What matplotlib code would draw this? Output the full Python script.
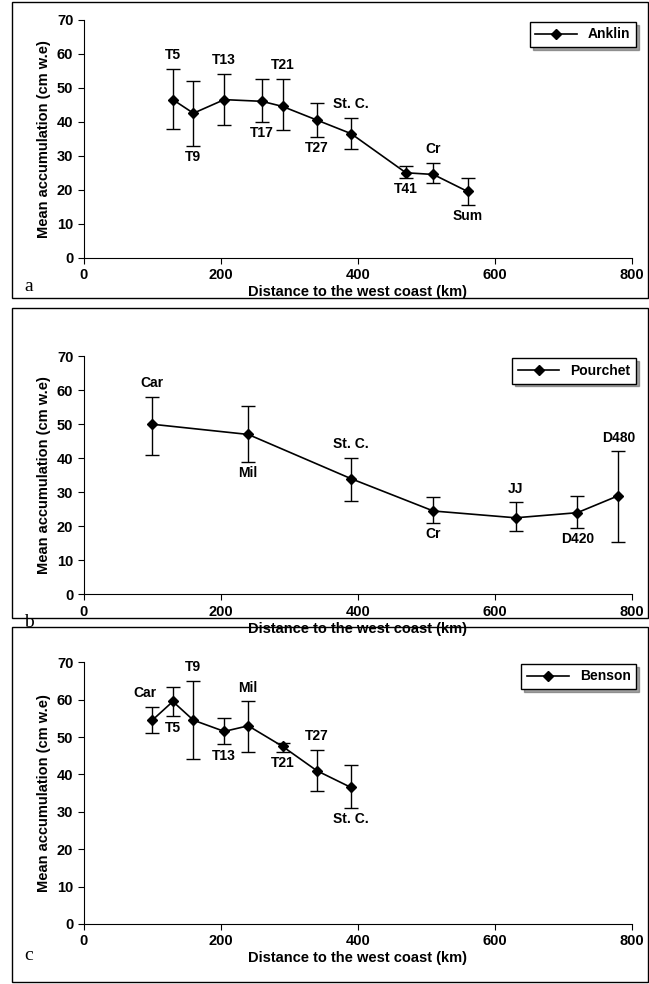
import matplotlib
matplotlib.use("Agg")
import matplotlib.pyplot as plt
from matplotlib.patches import Rectangle
from matplotlib.lines import Line2D

plt.rcParams['font.family'] = ['Liberation Sans', 'DejaVu Sans']

# panel a (Anklin)
a_x = [130, 160, 205, 260, 290, 340, 390, 470, 510, 560]
a_y = [46.5, 42.5, 46.5, 46, 44.5, 40.5, 36.5, 25, 24.5, 19.5]
a_lo = [38, 33, 39, 40, 37.5, 35.5, 32, 23.5, 22, 15.5]
a_hi = [55.5, 52, 54, 52.5, 52.5, 45.5, 41, 27, 28, 23.5]
a_lab = ['T5', 'T9', 'T13', 'T17', 'T21', 'T27', 'St. C.', 'T41', 'Cr', 'Sum']
a_pos = ['up', 'down', 'up', 'down', 'up', 'down', 'up', 'down', 'up', 'down']

# panel b (Pourchet)
b_x = [100, 240, 390, 510, 630, 720, 780]
b_y = [50, 47, 34, 24.5, 22.5, 24, 29]
b_lo = [41, 39, 27.5, 21, 18.5, 19.5, 15.5]
b_hi = [58, 55.5, 40, 28.5, 27, 29, 42]
b_lab = ['Car', 'Mil', 'St. C.', 'Cr', 'JJ', 'D420', 'D480']
b_pos = ['up', 'down', 'up', 'down', 'up', 'down', 'up']

# panel c (Benson)
c_x = [100, 130, 160, 205, 240, 290, 340, 390]
c_y = [54.5, 59.5, 54.5, 51.5, 53, 47.5, 41, 36.5]
c_lo = [51, 55.5, 44, 48, 46, 46, 35.5, 31]
c_hi = [58, 63.5, 65, 55, 59.5, 48.5, 46.5, 42.5]
c_lab = ['Car', 'T5', 'T9', 'T13', 'Mil', 'T21', 'T27', 'St. C.']
c_pos = ['upl', 'down', 'up', 'down', 'up', 'down', 'up', 'down']

fig = plt.figure(figsize=(6.49, 9.84), dpi=100)

panels = [
    (a_x, a_y, a_lo, a_hi, a_lab, a_pos, 'Anklin', 'a', [0.129, 0.738, 0.845, 0.242], (12, 2, 636, 296)),
    (b_x, b_y, b_lo, b_hi, b_lab, b_pos, 'Pourchet', 'b', [0.129, 0.396, 0.845, 0.242], (12, 308, 636, 310)),
    (c_x, c_y, c_lo, c_hi, c_lab, c_pos, 'Benson', 'c', [0.129, 0.061, 0.845, 0.266], (12, 627, 636, 355)),
]

for x, y, lo, hi, lab, pos, name, letter, rect, box in panels:
    bx, by, bw, bh = box
    fig.patches.append(Rectangle((bx / 649, 1 - (by + bh) / 984), bw / 649, bh / 984,
                                 transform=fig.transFigure, fill=False, lw=1, ec='black'))
    ax = fig.add_axes(rect)
    err = [[yy - l for yy, l in zip(y, lo)], [h - yy for yy, h in zip(y, hi)]]
    ax.errorbar(x, y, yerr=err, color='black', marker='D', ms=5, lw=1.2,
                capsize=5, elinewidth=1)
    for xx, yy, l, h, t, p in zip(x, y, lo, hi, lab, pos):
        if p == 'up':
            ax.annotate(t, (xx, h), xytext=(0, 5), textcoords='offset points',
                        ha='center', va='bottom', fontsize=10, fontweight='bold')
        elif p == 'upl':
            ax.annotate(t, (xx, h), xytext=(-5, 5), textcoords='offset points',
                        ha='center', va='bottom', fontsize=10, fontweight='bold')
        else:
            ax.annotate(t, (xx, l), xytext=(0, -3), textcoords='offset points',
                        ha='center', va='top', fontsize=10, fontweight='bold')
    ax.set_xlim(0, 800)
    ax.set_ylim(0, 70)
    ax.set_xticks(range(0, 801, 200))
    ax.set_yticks(range(0, 71, 10))
    ax.spines['top'].set_visible(False)
    ax.spines['right'].set_visible(False)
    ax.tick_params(labelsize=10.5, direction='out', length=4)
    for t in ax.get_xticklabels() + ax.get_yticklabels():
        t.set_fontweight('bold')
    ax.set_ylabel('Mean accumulation (cm w.e)', fontsize=10.5, fontweight='bold')
    ax.set_xlabel('Distance to the west coast (km)', fontsize=10.5, fontweight='bold', labelpad=2)
    handle = Line2D([], [], color='black', marker='D', ms=5, lw=1.2)
    leg = ax.legend([handle], [name], loc='upper right', bbox_to_anchor=(1.02, 1.02), fontsize=10,
                    frameon=True, fancybox=False, shadow=True, handlelength=3, borderpad=0.4)
    leg.get_frame().set_edgecolor('black')
    for t in leg.get_texts():
        t.set_fontweight('bold')
    ax.text(-0.1, -0.12, letter, transform=ax.transAxes, fontsize=14,
            family='Liberation Serif', ha='center', va='center')

fig.savefig('out.png', dpi=100)
